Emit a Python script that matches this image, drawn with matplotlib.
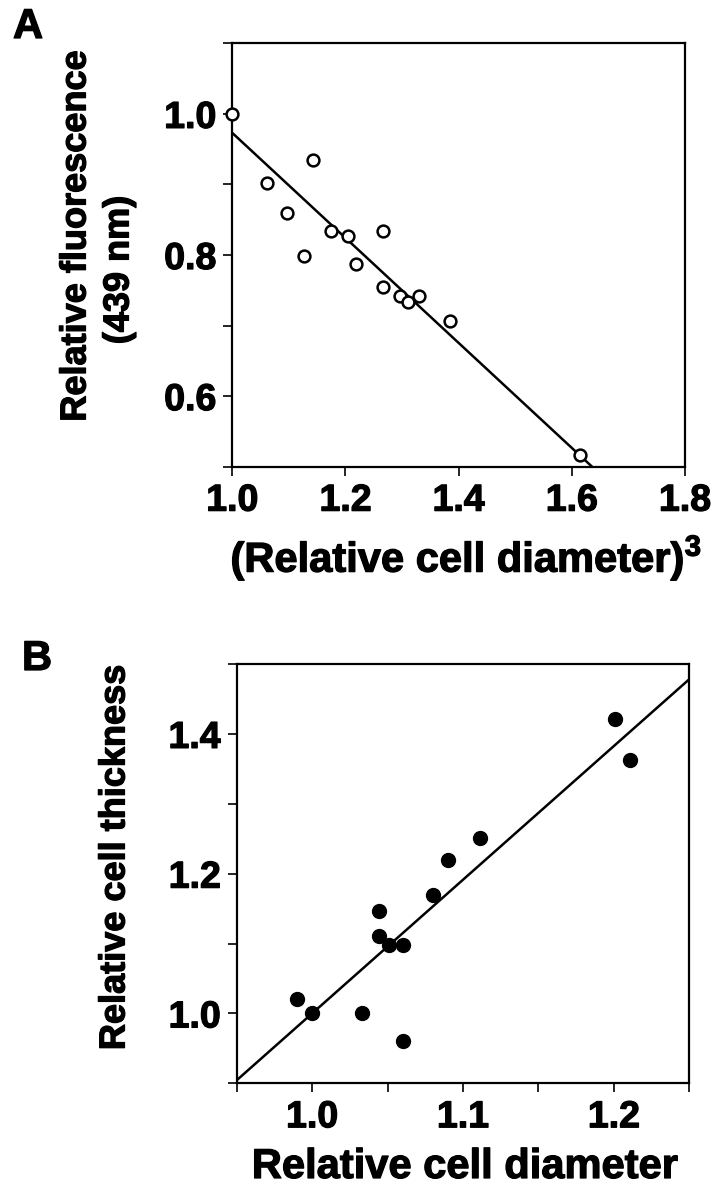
import numpy as np
import matplotlib
matplotlib.use("Agg")
import matplotlib.pyplot as plt
import matplotlib.patheffects as pe
from matplotlib.ticker import FixedLocator, FormatStrFormatter

plt.rcParams['font.family'] = ['Liberation Sans', 'DejaVu Sans']
plt.rcParams['font.weight'] = 'bold'
plt.rcParams['mathtext.fontset'] = 'custom'
plt.rcParams['mathtext.rm'] = 'Liberation Sans:bold'
plt.rcParams['mathtext.bf'] = 'Liberation Sans:bold'

# Panel A: fluorescence vs (relative diameter)^3
diam_cubed = [1.00, 1.061, 1.143, 1.097, 1.127, 1.175, 1.205, 1.219, 1.267, 1.266,
              1.296, 1.311, 1.330, 1.384, 1.614]
rel_fluor = [1.000, 0.902, 0.935, 0.860, 0.798, 0.834, 0.827, 0.787, 0.834, 0.754,
             0.742, 0.733, 0.742, 0.707, 0.516]
fit_a = (1.717, -0.744)   # intercept, slope

# Panel B: thickness vs diameter
rel_diam = [0.990, 1.000, 1.033, 1.060, 1.044, 1.044, 1.051, 1.060, 1.080, 1.090,
            1.111, 1.201, 1.211]
rel_thick = [1.020, 1.000, 1.000, 0.960, 1.147, 1.111, 1.098, 1.098, 1.169, 1.220,
             1.251, 1.421, 1.362]
fit_b = (-0.913, 1.913)

W, H = 718, 1199
fig = plt.figure(figsize=(W / 100, H / 100), dpi=100)
heavy = [pe.withStroke(linewidth=0.9, foreground='black')]


def box(l, t, r, b):
    # pixel box -> figure fraction rect
    return [l / W, 1 - b / H, (r - l) / W, (b - t) / H]


def style(ax):
    for s in ax.spines.values():
        s.set_linewidth(1.6)
    ax.tick_params(which='both', direction='out', length=6.5, width=1.2,
                   labelsize=27, pad=5, top=False, right=False)
    ax.xaxis.set_major_formatter(FormatStrFormatter('%.1f'))
    ax.yaxis.set_major_formatter(FormatStrFormatter('%.1f'))


def label(x, y, s, size, **kw):
    fig.text(x / W, 1 - y / H, s, fontsize=size, path_effects=heavy, **kw)


# ---- A ----
axA = fig.add_axes(box(232.3, 43.3, 685, 466.7))
axA.set_xlim(1.0, 1.8)
axA.set_ylim(0.5, 1.1)
xs = np.array(axA.get_xlim())
axA.plot(xs, fit_a[0] + fit_a[1] * xs, color='black', lw=1.8, zorder=2)
axA.plot(diam_cubed, rel_fluor, 'o', ms=8.5, mfc='white', mec='black', mew=1.8,
         clip_on=False, zorder=3)
axA.xaxis.set_major_locator(FixedLocator([1.0, 1.2, 1.4, 1.6, 1.8]))
axA.yaxis.set_major_locator(FixedLocator([0.6, 0.8, 1.0]))
axA.yaxis.set_minor_locator(FixedLocator([0.5, 0.7, 0.9, 1.1]))
style(axA)

label(13, 38, 'A', 30, ha='left', va='baseline')
label(76, 236, 'Relative fluorescence', 26, rotation=90, ha='center', va='center')
label(119, 270, '(439 nm)', 26, rotation=90, ha='center', va='center')
label(466, 572, r'(Relative cell diameter)$^{3}$', 30, ha='center', va='baseline')

# ---- B ----
axB = fig.add_axes(box(236.7, 664, 689.3, 1083.3))
axB.set_xlim(0.95, 1.25)
axB.set_ylim(0.9, 1.5)
xs = np.array(axB.get_xlim())
axB.plot(xs, fit_b[0] + fit_b[1] * xs, color='black', lw=1.8, zorder=2)
axB.plot(rel_diam, rel_thick, 'o', ms=10, color='black', clip_on=False, zorder=3)
axB.xaxis.set_major_locator(FixedLocator([1.0, 1.1, 1.2]))
axB.xaxis.set_minor_locator(FixedLocator([0.95, 1.05, 1.15, 1.25]))
axB.yaxis.set_major_locator(FixedLocator([1.0, 1.2, 1.4]))
axB.yaxis.set_minor_locator(FixedLocator([0.9, 1.1, 1.3, 1.5]))
style(axB)

label(22, 670, 'B', 30, ha='left', va='baseline')
label(115, 857.5, 'Relative cell thickness', 26, rotation=90, ha='center', va='center')
label(465, 1178, 'Relative cell diameter', 30, ha='center', va='baseline')

# thicken tick labels a little, like the printed figure
fig.canvas.draw()
for ax in (axA, axB):
    for t in ax.get_xticklabels() + ax.get_yticklabels():
        t.set_path_effects(heavy)

fig.savefig('out.png', dpi=100)
